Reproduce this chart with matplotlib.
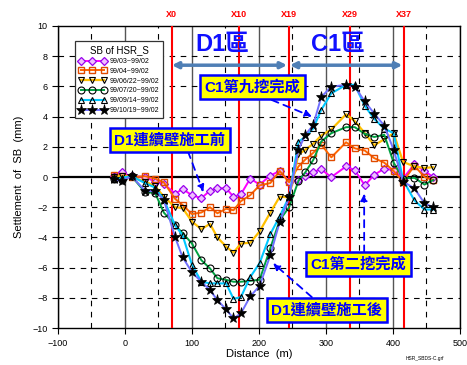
import matplotlib
matplotlib.use("Agg")
import matplotlib.pyplot as plt
import numpy as np

plt.rcParams['font.family'] = ['Liberation Sans', 'Noto Sans CJK TC', 'DejaVu Sans']

# measurement positions (m)
dist = [-17, -5, 10, 30, 45, 58, 75, 86, 100, 114, 127, 138, 151, 162, 173, 187,
        201, 217, 231, 245, 259, 269, 281, 293, 308, 330, 343, 358, 372, 387,
        401, 415, 432, 447, 460]

sb_9903 = [0.1, 0.3, 0.05, 0.0, -0.3, -0.45, -1.1, -0.8, -1.2, -1.4, -0.9, -0.75,
           -0.75, -1.3, -1.15, -0.1, -0.5, 0.1, 0.4, -0.3, -0.2, 0.1, 0.35, 0.5,
           0.0, 0.7, 0.45, -0.55, 0.15, 0.55, 0.45, -0.1, 0.85, 0.4, 0.0]
sb_9904 = [0.15, 0.05, 0.0, 0.05, -0.1, -0.35, -1.45, -1.85, -2.45, -2.35, -2.0,
           -2.4, -2.1, -2.2, -1.6, -1.2, -0.55, -0.4, 0.4, -0.35, 0.7, 1.15, 1.6,
           2.15, 1.3, 2.3, 1.9, 1.75, 1.25, 0.95, 0.4, -0.3, 0.75, 0.0, -0.2]
sb_990622 = [0.0, 0.1, 0.0, -0.3, -0.6, -1.3, -2.0, -2.05, -2.95, -3.45, -3.1,
             -4.0, -4.6, -5.0, -4.4, -4.35, -3.6, -2.35, -1.3, -1.35, 1.5, 1.8,
             2.2, 2.75, 3.15, 4.15, 3.7, 2.9, 2.1, 2.5, 2.9, 1.0, 0.7, 0.6, 0.65]
sb_990720 = [-0.1, -0.2, 0.05, -1.0, -1.05, -2.35, -3.2, -3.7, -4.4, -5.5, -6.05,
             -6.7, -6.8, -6.93, -6.93, -6.87, -6.8, -4.7, -2.85, -2.0, -0.25, 0.3,
             1.13, 2.35, 2.9, 3.3, 3.3, 2.85, 2.65, 2.8, 0.95, -0.1, -0.05, -0.5, -0.2]
sb_990914 = [-0.1, -0.05, 0.05, -0.4, -0.7, -1.5, -3.2, -3.85, -5.8, -6.93, -7.04,
             -7.04, -7.04, -8.06, -7.95, -6.62, -5.7, -3.77, -2.6, -1.3, 2.34, 2.65,
             3.22, 4.45, 5.54, 6.1, 6.1, 4.7, 3.85, 3.2, 2.9, -0.2, -1.55, -2.15, -2.15]
sb_991019 = [-0.15, -0.25, 0.05, -0.9, -0.95, -1.5, -4.0, -5.3, -6.3, -6.93, -7.48,
             -8.15, -8.76, -9.36, -9.03, -7.9, -7.2, -5.17, -2.96, -1.35, 1.8, 2.78,
             3.44, 5.3, 5.98, 6.1, 5.98, 5.0, 4.2, 3.4, 1.8, -0.3, -0.75, -1.74, -2.0]

labels = ['99/03~99/02', '99/04~99/02', '99/06/22~99/02', '99/07/20~99/02',
          '99/09/14~99/02', '99/10/19~99/02']

# excavation section lines
sec_names = ['X0', 'X10', 'X19', 'X29', 'X37']
sec_pos = [70, 170, 245, 336, 416]

fig = plt.figure(figsize=(4.67, 3.65), dpi=100)
ax = fig.add_axes([0.124, 0.101, 0.861, 0.828])

# grid
for gx in range(-100, 501, 100):
    ax.axvline(gx, color='#555555', lw=1.0, zorder=1)
for gx in range(-50, 500, 100):
    ax.axvline(gx, color='black', lw=0.8, ls=(0, (5, 5)), zorder=1)
for gy in range(-8, 10, 2):
    if gy != 0:
        ax.axhline(gy, color='black', lw=0.8, ls=(0, (5, 5)), zorder=1)
ax.axhline(0, color='black', lw=1.6, zorder=2)

for p, n in zip(sec_pos, sec_names):
    ax.axvline(p, color='red', lw=1.5, zorder=3)
    ax.text(p, 10.45, n, color='red', fontsize=6.5, fontweight='bold',
            ha='center', va='bottom')

ax.plot(dist, sb_9903, color='#ff00ff', lw=1.4, marker='D', ms=4,
        mec='#9900ee', mfc='#efbfff', mew=0.9, label=labels[0], zorder=5)
ax.plot(dist, sb_9904, color='#ff6600', lw=1.4, marker='s', ms=4.5,
        mec='#e04a00', mfc='none', mew=1.0, label=labels[1], zorder=5)
ax.plot(dist, sb_990622, color='#ffc000', lw=1.6, marker='v', ms=5,
        mec='black', mfc='none', mew=0.8, label=labels[2], zorder=5)
ax.plot(dist, sb_990720, color='#00a040', lw=1.4, marker='o', ms=5,
        mec='black', mfc='none', mew=0.8, label=labels[3], zorder=5)
ax.plot(dist, sb_990914, color='#00c8ff', lw=1.5, marker='^', ms=5,
        mec='black', mfc='none', mew=0.8, label=labels[4], zorder=5)
ax.plot(dist, sb_991019, color='#7070ff', lw=1.4, marker='*', ms=8,
        mec='black', mfc='black', mew=0.5, label=labels[5], zorder=6)

ax.set_xlim(-100, 500)
ax.set_ylim(-10, 10)
ax.set_xticks(range(-100, 501, 100))
ax.set_yticks(range(-10, 11, 2))
ax.tick_params(labelsize=6.5, length=4, direction='out')
for s in ax.spines.values():
    s.set_linewidth(1.0)
ax.set_xlabel('Distance  (m)', fontsize=8, labelpad=1)
ax.set_ylabel('Settlement  of  SB  (mm)', fontsize=8, labelpad=6)

# zone labels and arrows
ax.text(146, 8.75, 'D1區', color='#1010ff', fontsize=17, fontweight='bold',
        ha='center', va='center')
ax.text(318, 8.75, 'C1區', color='#1010ff', fontsize=17, fontweight='bold',
        ha='center', va='center')
arrow_kw = dict(arrowstyle='<|-|>', color='#4f7fb5', lw=2.5, mutation_scale=9,
                shrinkA=0, shrinkB=0)
ax.annotate('', xy=(70, 7.4), xytext=(242, 7.4), arrowprops=arrow_kw)
ax.annotate('', xy=(246, 7.4), xytext=(414, 7.4), arrowprops=arrow_kw)

box = dict(boxstyle='square,pad=0.3', fc='#ffff00', ec='#0000ff', lw=1.8)
note_kw = dict(color='#0000ff', fontsize=11, fontweight='bold', ha='center',
               va='center', bbox=box, zorder=8)
dash_kw = dict(arrowstyle='-|>', color='#0000ff', lw=1.3, ls=(0, (4, 3)),
               mutation_scale=10, shrinkA=0, shrinkB=0)

ax.text(190, 5.95, 'C1第九挖完成', **note_kw)
ax.annotate('', xy=(279, 4.0), xytext=(219, 5.1), arrowprops=dash_kw, zorder=7)
ax.text(67, 2.45, 'D1連續壁施工前', **note_kw)
ax.annotate('', xy=(117, -1.0), xytext=(94, 1.7), arrowprops=dash_kw, zorder=7)
ax.text(348, -5.75, 'C1第二挖完成', **note_kw)
ax.annotate('', xy=(357, -1.1), xytext=(357, -5.0), arrowprops=dash_kw, zorder=7)
ax.text(301, -8.8, 'D1連續壁施工後', **note_kw)
ax.annotate('', xy=(221, -5.7), xytext=(279, -7.95), arrowprops=dash_kw, zorder=7)

leg = ax.legend(loc='upper left', bbox_to_anchor=(0.035, 0.96), fontsize=5,
                title='SB of HSR_S', title_fontsize=7, numpoints=3,
                handlelength=3.8, handletextpad=0.5, labelspacing=0.4,
                borderpad=0.55, fancybox=False, framealpha=1, edgecolor='#333333')
leg.get_frame().set_linewidth(0.9)
leg.set_zorder(9)

fig.text(0.91, 0.015, 'HSR_SBDS-C.grf', fontsize=3.5, ha='center')

fig.savefig('out.png', dpi=100)
